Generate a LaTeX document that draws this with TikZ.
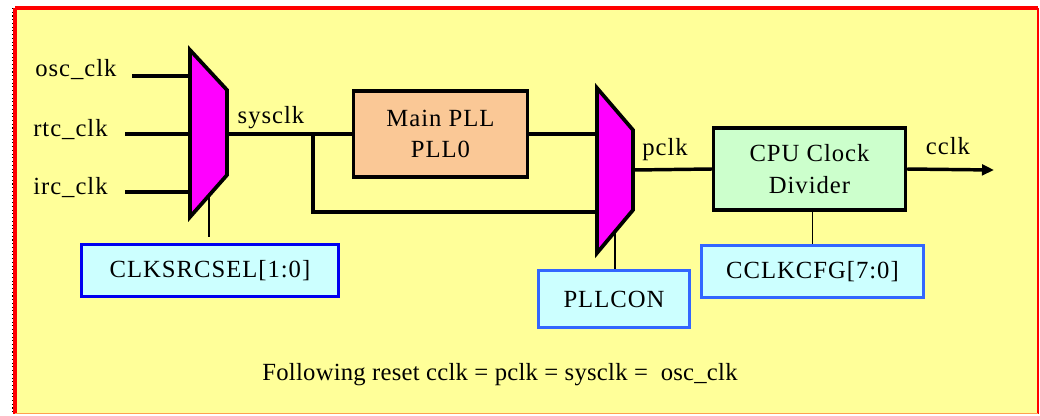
\documentclass[tikz,border=0pt]{standalone}
\usepackage{fontspec}
\setmainfont{Liberation Serif}[LetterSpace=4]
\newfontfamily\notefont{Liberation Serif}[LetterSpace=1]
\usetikzlibrary{arrows.meta}
\definecolor{bgyellow}{HTML}{FFFF99}
\definecolor{muxmag}{HTML}{FF00FF}
\definecolor{pllpeach}{HTML}{FAC896}
\definecolor{cpugreen}{HTML}{CCFFCC}
\definecolor{regcyan}{HTML}{CCFFFF}
\definecolor{blueA}{HTML}{0000F0}
\definecolor{blueB}{HTML}{3366FF}
\definecolor{frame}{HTML}{FF0000}
\definecolor{frameb}{HTML}{FFA050}
\begin{document}
\begin{tikzpicture}[x=0.75pt,y=-0.75pt,
  every node/.style={font=\fontsize{18.5}{23.5}\selectfont},
  wire/.style={line width=2.6pt},
  ctlwire/.style={line width=1.4pt},
  muxshape/.style={fill=muxmag,draw=black,line width=2.8pt,line join=miter},
  blk/.style={draw=black,line width=2.6pt,inner sep=0pt,align=center},
  regA/.style={draw=blueA,fill=regcyan,line width=2.6pt,inner sep=0pt},
  regB/.style={draw=blueB,fill=regcyan,line width=2.6pt,inner sep=0pt},
  lbl/.style={inner sep=0pt}]
% frame / background
\fill[white] (0,0) rectangle (1040,415);
\useasboundingbox (0,0) rectangle (1040,415);
\fill[bgyellow] (15,8) rectangle (1038,414);
\draw[frame,line width=3pt] (15,8) -- (1038,8);
\draw[frame,line width=3pt] (15,8) -- (15,414);
\draw[black,line width=0.8pt,dotted] (12.5,8) -- (12.5,414);
\draw[frame,line width=1pt] (1038,8) -- (1038,414);
\draw[frameb,line width=1pt] (15,413.5) -- (1038,413.5);

% mux 1
\coordinate (m1a) at (190,50);
\coordinate (m1b) at (227,90);
\coordinate (m1c) at (227,175);
\coordinate (m1d) at (190,217);
\coordinate (m1in1) at (190,76);
\coordinate (m1in2) at (190,134);
\coordinate (m1in3) at (190,192);
\coordinate (m1out) at (227,134);
\coordinate (m1ctl) at (209,196);
% mux 2
\coordinate (m2a) at (597,88);
\coordinate (m2b) at (633,130);
\coordinate (m2c) at (633,210);
\coordinate (m2d) at (597,253);
\coordinate (m2in1) at (597,134);
\coordinate (m2in2) at (597,212);
\coordinate (m2out) at (633,170);
\coordinate (m2ctl) at (615,232);

% input labels
\node[lbl,anchor=west] (osc) at (35,70) {osc\_clk};
\node[lbl,anchor=west] (rtc) at (33,130) {rtc\_clk};
\node[lbl,anchor=west] (irc) at (33,188) {irc\_clk};
\coordinate (oscst) at (132,76);
\coordinate (rtcst) at (125,134);
\coordinate (ircst) at (125,192);

% blocks
\node[blk,fill=pllpeach,minimum width=174*0.75pt,minimum height=86*0.75pt] (pll) at (440.5,134) {Main PLL\\PLL0};
\node[blk,fill=cpugreen,minimum width=192*0.75pt,minimum height=82*0.75pt] (cpu) at (809.5,169) {CPU Clock\\Divider};
\node[regA,minimum width=257*0.75pt,minimum height=52*0.75pt] (clksrc) at (210,270.5) {CLKSRCSEL[1:0]};
\node[regB,minimum width=151*0.75pt,minimum height=57*0.75pt] (pllcon) at (614,299) {PLLCON};
\node[regB,minimum width=222*0.75pt,minimum height=52*0.75pt] (cclkcfg) at (812.5,271.5) {CCLKCFG[7:0]};

% signal labels
\node[lbl] (sysclkl) at (271,118) {sysclk};
\node[lbl] (pclkl) at (665,150) {pclk};
\node[lbl] (cclkl) at (948,146) {cclk};
\coordinate (br) at (313,134);
\coordinate (outend) at (994,170);

% wires
\draw[wire] (oscst) -- (m1in1);
\draw[wire] (rtcst) -- (m1in2);
\draw[wire] (ircst) -- (m1in3);
\draw[wire] (m1out) -- (pll.west);
\draw[wire] (br) |- (m2in2);
\draw[wire] (pll.east) -- (m2in1);
\draw[wire] (m2out) -- (cpu.west);
\draw[wire,-{Triangle[length=9pt,width=8pt]}] (cpu.east) -- (outend);
\draw[ctlwire,shorten >=4.5pt] (m1ctl) -- (m1ctl |- clksrc.north);
\draw[ctlwire] (m2ctl) -- (m2ctl |- pllcon.north);
\draw[ctlwire] (cpu.south -| cclkcfg.north) -- (cclkcfg.north);

% muxes
\draw[muxshape] (m1a) -- (m1b) -- (m1c) -- (m1d) -- cycle;
\draw[muxshape] (m2a) -- (m2b) -- (m2c) -- (m2d) -- cycle;

% note
\node[lbl,font=\notefont\fontsize{18.5}{23.5}\selectfont] (note) at (500,375) {Following reset cclk = pclk = sysclk =\ \ osc\_clk};
\end{tikzpicture}
\end{document}
